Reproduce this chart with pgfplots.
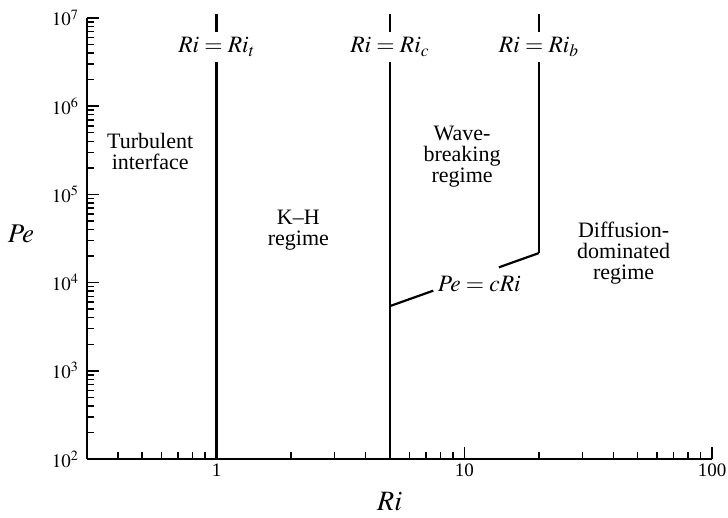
\documentclass[border=0pt]{standalone}
\usepackage{mathptmx}
\usepackage{fontspec}
\setmainfont{Liberation Serif}
\usepackage{pgfplots}
\pgfplotsset{compat=1.18}

\begin{document}
\begin{tikzpicture}
\useasboundingbox (-87pt,-58pt) rectangle (641pt,459pt);
\begin{axis}[
  at={(0,0)}, anchor=south west,
  scale only axis, width=625pt, height=441pt,
  xmode=log, ymode=log,
  xmin=0.3, xmax=100, ymin=100, ymax=1e7,
  axis lines*=left,
  axis line style={line width=2.2pt},
  tick align=inside,
  major tick length=12pt, minor tick length=7pt,
  every tick/.style={line width=1.5pt, black},
  xtick={1,10,100}, xticklabels={1,10,100},
  minor xtick={0.4,0.5,0.6,0.7,0.8,0.9,2,3,4,5,6,7,8,9,20,30,40,50,60,70,80,90},
  ytick={1e2,1e3,1e4,1e5,1e6,1e7},
  minor ytick={200,300,400,500,600,700,800,900,
    2000,3000,4000,5000,6000,7000,8000,9000,
    20000,30000,40000,50000,60000,70000,80000,90000,
    2e5,3e5,4e5,5e5,6e5,7e5,8e5,9e5,
    2e6,3e6,4e6,5e6,6e6,7e6,8e6,9e6},
  tick label style={font=\fontsize{19}{22}\selectfont},
  yticklabel style={xshift=-5pt},
  xticklabel style={yshift=-1pt},
  clip=false,
]
% regime boundaries Ri = Ri_t and Ri = Ri_c
\addplot[black, line width=2.2pt] coordinates {(1,100) (1,3.16e6)};
\addplot[black, line width=2.2pt] coordinates {(1,6.9e6) (1,1.11e7)};
\addplot[black, line width=2.2pt] coordinates {(5,100) (5,3.16e6)};
\addplot[black, line width=2.2pt] coordinates {(5,6.9e6) (5,1.11e7)};
% Pe = cRi between Ri_c and Ri_b
\addplot[black, line width=2.2pt] coordinates {(5,5400) (7.5,8100)};
\addplot[black, line width=2.2pt] coordinates {(13.8,14900) (20,21600)};
% Ri = Ri_b above the Pe = cRi line
\addplot[black, line width=2.2pt] coordinates {(20,21600) (20,3.16e6)};
\addplot[black, line width=2.2pt] coordinates {(20,6.9e6) (20,1.11e7)};

\begin{scope}[font=\fontsize{23.5}{26}\selectfont]
\node at (axis cs:1,4.7e6) {$Ri = Ri_t$};
\node at (axis cs:5,4.7e6) {$Ri = Ri_c$};
\node at (axis cs:20,4.7e6) {$Ri = Ri_b$};
\node at (axis cs:11.5,9.6e3) {$Pe = cRi$};
\end{scope}

\begin{scope}[font=\fontsize{22}{21}\selectfont, align=center]
\node at (axis cs:0.54,3.1e5) {Turbulent\\interface};
\node at (axis cs:2.14,3.9e4) {K--H\\regime};
\node at (axis cs:9.8,2.7e5) {Wave-\\breaking\\regime};
\node at (axis cs:44,2.15e4) {Diffusion-\\dominated\\regime};
\end{scope}

\node[font=\fontsize{28}{30}\selectfont] at (axis cs:5,100) [yshift=-43pt] {$Ri$};
\node[font=\fontsize{27}{30}\selectfont] at (rel axis cs:0,0.5) [xshift=-66pt, yshift=5pt] {$Pe$};
\end{axis}
\end{tikzpicture}
\end{document}
